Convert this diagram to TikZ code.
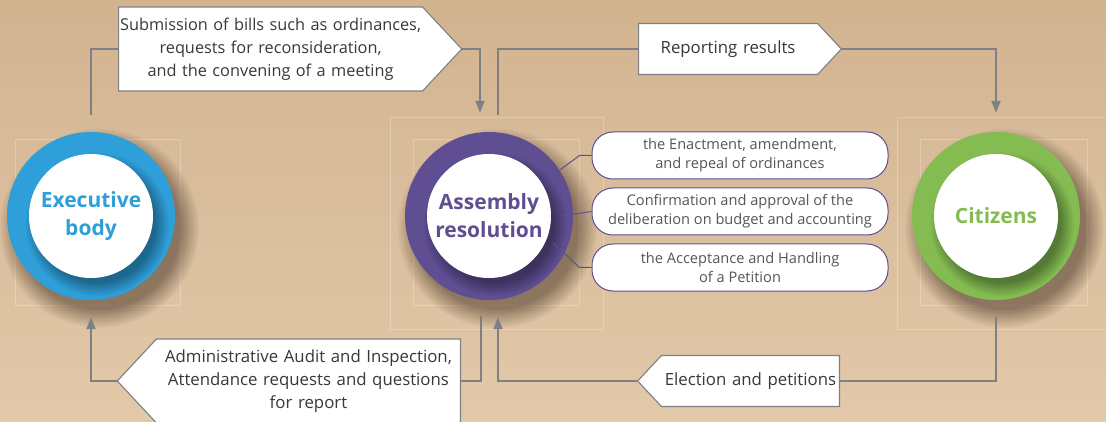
\documentclass[tikz,border=0pt]{standalone}
\usepackage{fontspec}
\setmainfont{Open Sans}
\usetikzlibrary{shapes.symbols,arrows.meta,calc,fadings,positioning}

\definecolor{exeblue}{HTML}{2E9FD9}
\definecolor{asmpurple}{HTML}{5F4E92}
\definecolor{citgreen}{HTML}{84BC52}
\definecolor{linegray}{HTML}{7E8084}
\definecolor{textgray}{HTML}{383838}
\definecolor{pillgray}{HTML}{555555}
\definecolor{bgtop}{HTML}{D2B390}
\definecolor{bgbot}{HTML}{E2C9A9}
\definecolor{shadecol}{HTML}{4A3828}

\tikzset{
  ring/.style={circle, minimum size=168pt, inner sep=0pt},
  core/.style={circle, fill=white, minimum size=124pt, inner sep=0pt,
    align=center, font=\bfseries\fontsize{21}{28}\selectfont},
  callout/.style={signal, draw=linegray, fill=white, line width=1.1pt,
    inner xsep=0pt, inner ysep=0pt, signal pointer angle=94, align=center,
    text=textgray, font=\fontsize{16.8}{23}\selectfont},
  task/.style={draw=asmpurple, fill=white, line width=1pt, rounded corners=21pt,
    minimum width=296pt, minimum height=47pt, align=center,
    text=pillgray, font=\fontsize{14.6}{19}\selectfont},
  link/.style={draw=linegray, line width=2pt},
  flow/.style={link, -{Triangle[length=12pt,width=9pt]}},
  branch/.style={draw=asmpurple, line width=1pt},
  frame/.style={draw=white, opacity=.25, line width=.8pt},
  softshadow/.style={fill=shadecol, path fading=circle with fuzzy edge 20 percent},
}

\begin{document}
\begin{tikzpicture}[x=1pt, y=1pt]
  \useasboundingbox (0,0) rectangle (1106,-422);
  \fill[top color=bgtop, bottom color=bgbot] (0,0) rectangle (1106,-422);

  % faint frames behind the circles
  \draw[frame] (15,-139) rectangle (180,-305);
  \draw[frame] (413,-139) rectangle (579,-305);
  \draw[frame] (920,-139) rectangle (1087,-305);
  \draw[frame] (390,-117) rectangle (603,-329);
  \draw[frame] (897,-117) rectangle (1120,-329);

  % shadows of the rings
  \fill[softshadow, opacity=.55] (99,-228) circle (100);
  \fill[softshadow, opacity=.55] (497,-228) circle (100);
  \fill[softshadow, opacity=.55] (1004,-228) circle (100);

  % rings
  \node[ring, fill=exeblue] (exe) at (91,-216) {};
  \node[ring, fill=asmpurple] (asm) at (489,-216) {};
  \node[ring, fill=citgreen] (cit) at (996,-216) {};

  \fill[fill=black, path fading=circle with fuzzy edge 20 percent, opacity=.35] (97,-224) circle (72);
  \fill[fill=black, path fading=circle with fuzzy edge 20 percent, opacity=.35] (495,-224) circle (72);
  \fill[fill=black, path fading=circle with fuzzy edge 20 percent, opacity=.35] (1002,-224) circle (72);

  \node[core, text=exeblue] (exeIn) at (exe) {Executive\\body};
  \node[core, text=asmpurple] (asmIn) at (asm) {Assembly\\resolution};
  \node[core, text=citgreen] (citIn) at (cit) {Citizens};

  % tasks of the assembly
  \node[task] (enact) at (740,-155.5) {the Enactment, amendment,\\and repeal of ordinances};
  \node[task, below=8pt of enact] (budget) {Confirmation and approval of the\\deliberation on budget and accounting};
  \node[task, below=8pt of budget] (petition) {the Acceptance and Handling\\of a Petition};

  \draw[branch] ($(asm.center)+(33:85)$) -- ($(enact.west)+(-12,0)$) -- (enact.west);
  \draw[branch] ($(asm.center)+(0:72)$) -- (budget.west);
  \draw[branch] ($(asm.center)+(-23:70)$) -- ($(petition.west)+(-12,0)$) -- (petition.west);

  % labels on the flows
  \node[callout, signal to=east, text width=304pt, minimum height=84pt, anchor=west,
    font=\fontsize{16.3}{23}\selectfont] (bills) at (118,-49)
    {Submission of bills such as ordinances,\\requests for reconsideration,\\and the convening of a meeting};
  \node[callout, signal to=east, text width=179pt, minimum height=51pt, anchor=west] (report) at (638,-49)
    {Reporting results};
  \node[callout, signal to=west, text width=178pt, minimum height=51pt, anchor=east] (elect) at (840,-381)
    {Election and petitions};
  \node[callout, signal to=west, text width=304pt, minimum height=84pt, anchor=east] (audit) at (461,-381)
    {Administrative Audit and Inspection,\\Attendance requests and questions\\for report};

  % flows
  \draw[link] ($(exe.north)+(0,17)$) |- (bills.west);
  \draw[flow] (bills.east) -| ($(asm.north)+(-9,19)$);
  \draw[link] ($(asm.north)+(9,17)$) |- (report.west);
  \draw[flow] (report.east) -| ($(cit.north)+(0,19)$);
  \draw[link] ($(cit.south)+(0,-17)$) |- (elect.east);
  \draw[flow] (elect.west) -| ($(asm.south)+(9,-17)$);
  \draw[link] ($(asm.south)+(-8,-16)$) |- (audit.east);
  \draw[flow] (audit.west) -| ($(exe.south)+(0,-17)$);
\end{tikzpicture}
\end{document}
